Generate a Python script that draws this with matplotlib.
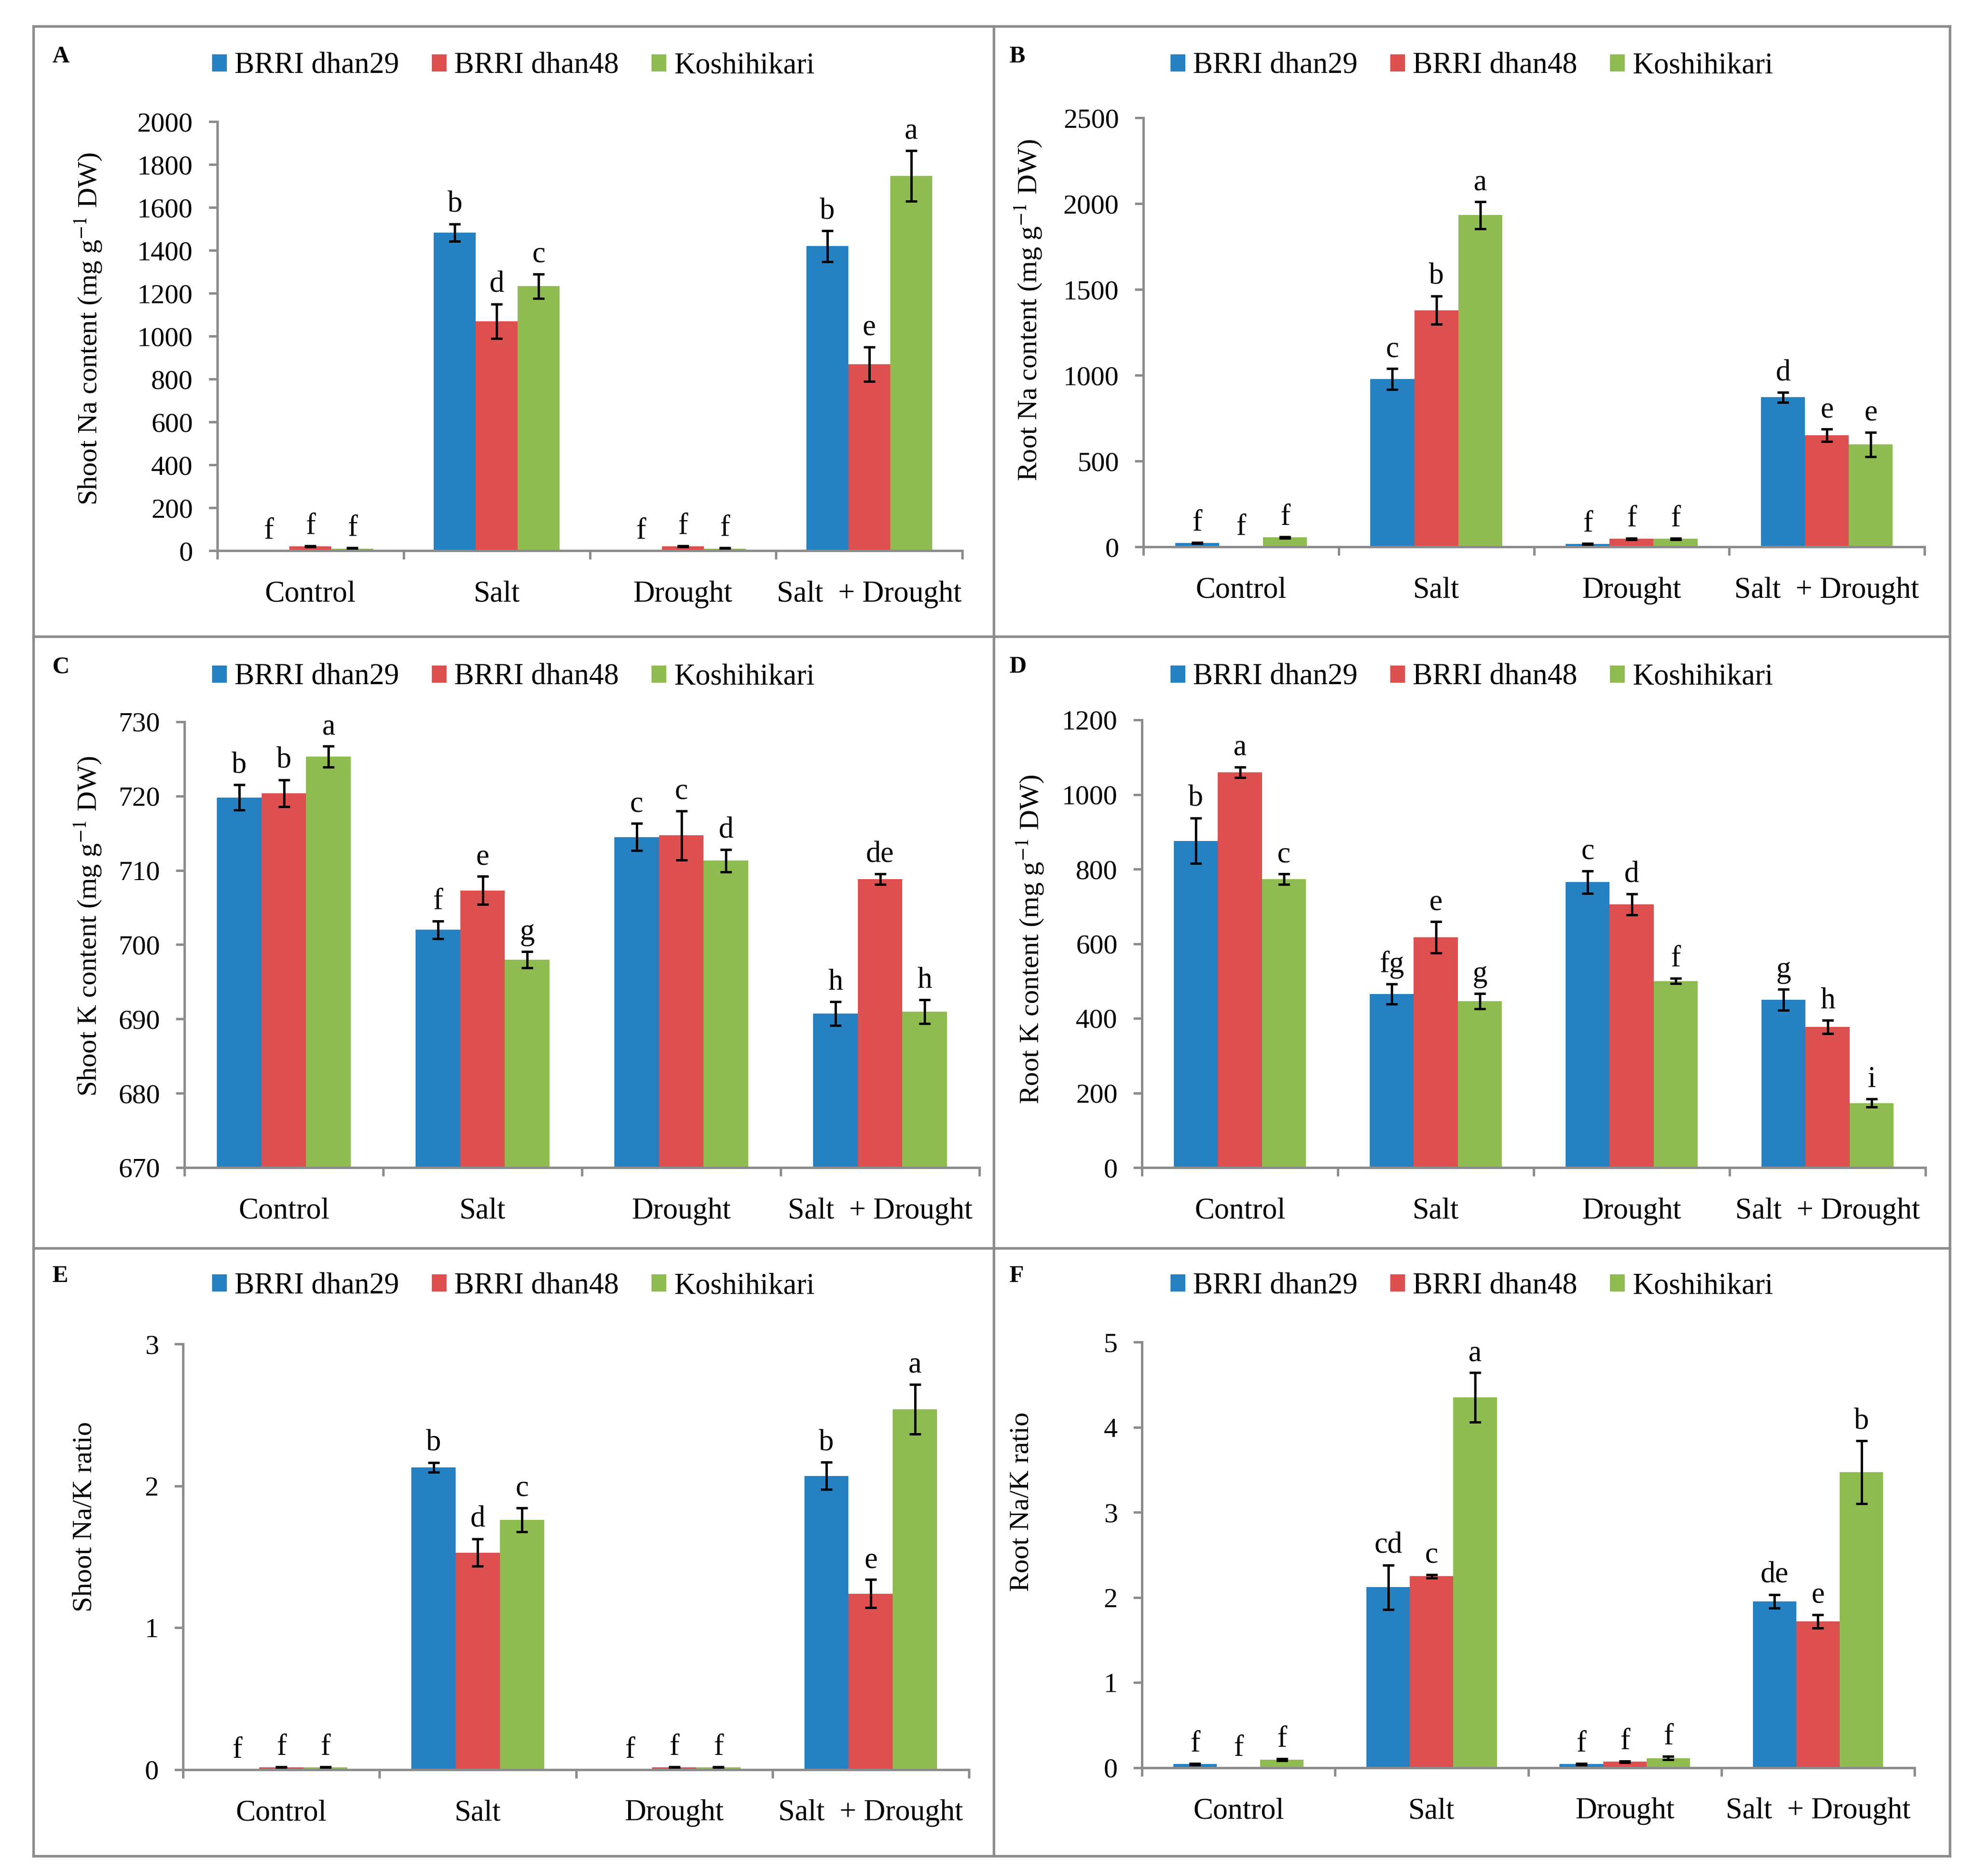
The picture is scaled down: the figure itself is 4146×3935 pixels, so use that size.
import matplotlib
matplotlib.use('Agg')
import matplotlib.pyplot as plt
from matplotlib.patches import Patch
from matplotlib.lines import Line2D
from matplotlib.font_manager import FontProperties
import numpy as np

W, H = 4146, 3935
DPI = 300
plt.rcParams['font.family'] = ['Liberation Serif', 'DejaVu Serif']
plt.rcParams['mathtext.fontset'] = 'stix'

categories = ['Control', 'Salt', 'Drought', 'Salt  + Drought']
cultivars = ['BRRI dhan29', 'BRRI dhan48', 'Koshihikari']
colors = ['#2581C2', '#DE4F4F', '#8FBC50']

# Panel A: Shoot Na content
shoot_na_29 = [0, 1483, 0, 1419]
shoot_na_48 = [20, 1070, 20, 869]
shoot_na_kosh = [10, 1233, 10, 1747]
shoot_na_29_err = [0, 40, 0, 72]
shoot_na_48_err = [3, 80, 3, 80]
shoot_na_kosh_err = [3, 57, 3, 118]
shoot_na_29_let = ['f', 'b', 'f', 'b']
shoot_na_48_let = ['f', 'd', 'f', 'e']
shoot_na_kosh_let = ['f', 'c', 'f', 'a']

# Panel B: Root Na content
root_na_29 = [22, 978, 17, 871]
root_na_48 = [0, 1379, 47, 650]
root_na_kosh = [55, 1932, 47, 596]
root_na_29_err = [3, 60, 3, 29]
root_na_48_err = [0, 83, 4, 36]
root_na_kosh_err = [4, 78, 4, 71]
root_na_29_let = ['f', 'c', 'f', 'd']
root_na_48_let = ['f', 'b', 'f', 'e']
root_na_kosh_let = ['f', 'a', 'f', 'e']

# Panel C: Shoot K content
shoot_k_29 = [719.8, 702.0, 714.5, 690.7]
shoot_k_48 = [720.4, 707.3, 714.7, 708.8]
shoot_k_kosh = [725.3, 698.0, 711.3, 691.0]
shoot_k_29_err = [1.7, 1.2, 1.8, 1.6]
shoot_k_48_err = [1.8, 1.9, 3.3, 0.7]
shoot_k_kosh_err = [1.4, 1.1, 1.5, 1.6]
shoot_k_29_let = ['b', 'f', 'c', 'h']
shoot_k_48_let = ['b', 'e', 'c', 'de']
shoot_k_kosh_let = ['a', 'g', 'd', 'h']

# Panel D: Root K content
root_k_29 = [876, 465, 765, 450]
root_k_48 = [1060, 617, 705, 377]
root_k_kosh = [773, 446, 500, 173]
root_k_29_err = [61, 27, 30, 28]
root_k_48_err = [14, 42, 28, 18]
root_k_kosh_err = [14, 21, 7, 11]
root_k_29_let = ['b', 'fg', 'c', 'g']
root_k_48_let = ['a', 'e', 'd', 'h']
root_k_kosh_let = ['c', 'g', 'f', 'i']

# Panel E: Shoot Na/K ratio
shoot_ratio_29 = [0, 2.13, 0, 2.07]
shoot_ratio_48 = [0.017, 1.53, 0.017, 1.24]
shoot_ratio_kosh = [0.017, 1.76, 0.017, 2.54]
shoot_ratio_29_err = [0, 0.034, 0, 0.096]
shoot_ratio_48_err = [0.003, 0.096, 0.003, 0.099]
shoot_ratio_kosh_err = [0.003, 0.085, 0.003, 0.175]
shoot_ratio_29_let = ['f', 'b', 'f', 'b']
shoot_ratio_48_let = ['f', 'd', 'f', 'e']
shoot_ratio_kosh_let = ['f', 'c', 'f', 'a']

# Panel F: Root Na/K ratio
root_ratio_29 = [0.042, 2.12, 0.042, 1.955]
root_ratio_48 = [0, 2.25, 0.07, 1.72]
root_ratio_kosh = [0.094, 4.35, 0.113, 3.47]
root_ratio_29_err = [0.01, 0.26, 0.01, 0.08]
root_ratio_48_err = [0, 0.02, 0.01, 0.08]
root_ratio_kosh_err = [0.012, 0.29, 0.02, 0.37]
root_ratio_29_let = ['f', 'cd', 'f', 'de']
root_ratio_48_let = ['f', 'c', 'f', 'e']
root_ratio_kosh_let = ['f', 'a', 'f', 'b']

fig = plt.figure(figsize=(W / DPI, H / DPI), dpi=DPI)

def fx(x):
    return x / W

def fy(y):
    return 1 - y / H

GRAY = '#8C8C8C'

# Panel borders
def hline(y, x0, x1):
    fig.add_artist(Line2D([fx(x0), fx(x1)], [fy(y), fy(y)], color=GRAY, lw=1.3, transform=fig.transFigure))

def vline(x, y0, y1):
    fig.add_artist(Line2D([fx(x), fx(x)], [fy(y0), fy(y1)], color=GRAY, lw=1.3, transform=fig.transFigure))

L, R, T, B, MX = 70, 4091, 55, 3893, 2085
for y in (T, 1335, 2618, B):
    hline(y, L, R)
for x in (L, MX, R):
    vline(x, T, B)

panels = [
    dict(rect=(456, 2019, 255, 1155), ylim=(0, 2000), yticks=np.arange(0, 2001, 200),
         vals=[shoot_na_29, shoot_na_48, shoot_na_kosh],
         errs=[shoot_na_29_err, shoot_na_48_err, shoot_na_kosh_err],
         lets=[shoot_na_29_let, shoot_na_48_let, shoot_na_kosh_let],
         ylabel=r'Shoot Na content (mg g$^{-1}$ DW)', ylab_xy=(186, 690),
         tag='A', tag_xy=(109, 96), leg_xy=(1077, 139)),
    dict(rect=(2399, 4038, 247, 1147), ylim=(0, 2500), yticks=np.arange(0, 2501, 500),
         vals=[root_na_29, root_na_48, root_na_kosh],
         errs=[root_na_29_err, root_na_48_err, root_na_kosh_err],
         lets=[root_na_29_let, root_na_48_let, root_na_kosh_let],
         ylabel=r'Root Na content (mg g$^{-1}$ DW)', ylab_xy=(2158, 650),
         tag='B', tag_xy=(2117, 96), leg_xy=(3088, 139)),
    dict(rect=(387, 2055, 1514, 2449), ylim=(670, 730), yticks=np.arange(670, 731, 10),
         vals=[shoot_k_29, shoot_k_48, shoot_k_kosh],
         errs=[shoot_k_29_err, shoot_k_48_err, shoot_k_kosh_err],
         lets=[shoot_k_29_let, shoot_k_48_let, shoot_k_kosh_let],
         ylabel=r'Shoot K content (mg g$^{-1}$ DW)', ylab_xy=(185, 1943),
         tag='C', tag_xy=(109, 1376), leg_xy=(1077, 1421)),
    dict(rect=(2396, 4040, 1510, 2449), ylim=(0, 1200), yticks=np.arange(0, 1201, 200),
         vals=[root_k_29, root_k_48, root_k_kosh],
         errs=[root_k_29_err, root_k_48_err, root_k_kosh_err],
         lets=[root_k_29_let, root_k_48_let, root_k_kosh_let],
         ylabel=r'Root K content (mg g$^{-1}$ DW)', ylab_xy=(2162, 1970),
         tag='D', tag_xy=(2117, 1376), leg_xy=(3088, 1421)),
    dict(rect=(384, 2033, 2819, 3712), ylim=(0, 3), yticks=np.arange(0, 4, 1),
         vals=[shoot_ratio_29, shoot_ratio_48, shoot_ratio_kosh],
         errs=[shoot_ratio_29_err, shoot_ratio_48_err, shoot_ratio_kosh_err],
         lets=[shoot_ratio_29_let, shoot_ratio_48_let, shoot_ratio_kosh_let],
         ylabel='Shoot Na/K ratio', ylab_xy=(178, 3181),
         tag='E', tag_xy=(109, 2654), leg_xy=(1077, 2698)),
    dict(rect=(2396, 4017, 2815, 3708), ylim=(0, 5), yticks=np.arange(0, 6, 1),
         vals=[root_ratio_29, root_ratio_48, root_ratio_kosh],
         errs=[root_ratio_29_err, root_ratio_48_err, root_ratio_kosh_err],
         lets=[root_ratio_29_let, root_ratio_48_let, root_ratio_kosh_let],
         ylabel='Root Na/K ratio', ylab_xy=(2144, 3150),
         tag='F', tag_xy=(2117, 2654), leg_xy=(3088, 2698)),
]

legend_font = FontProperties(family=['Liberation Serif', 'DejaVu Serif'], size=15)

bw = 0.225
x = np.arange(len(categories))
tick_len = 4.3
for p in panels:
    x0, x1, y0, y1 = p['rect']
    ax = fig.add_axes([fx(x0), fy(y1), fx(x1) - fx(x0), fy(y0) - fy(y1)])
    for i in range(3):
        xs = x + (i - 1) * bw
        ax.bar(xs, p['vals'][i], width=bw, color=colors[i], edgecolor='none', zorder=2)
        for xi, v, e, lt in zip(xs, p['vals'][i], p['errs'][i], p['lets'][i]):
            if e > 0:
                ax.errorbar(xi, v, yerr=e, fmt='none', ecolor='black', elinewidth=1.2,
                            capsize=2.9, capthick=1.2, zorder=3)
            ax.annotate(lt, xy=(xi, max(v + e, p['ylim'][0])), xytext=(0, 6),
                        textcoords='offset points', ha='center', va='baseline',
                        fontsize=15, annotation_clip=False)
    ax.set_xlim(-0.5, 3.5)
    ax.set_ylim(*p['ylim'])
    ax.set_yticks(p['yticks'])
    ax.set_yticklabels([str(int(t)) for t in p['yticks']])
    ax.set_xticks(np.arange(-0.5, 4, 1))
    ax.set_xticklabels([])
    ax.set_xticks(x, minor=True)
    ax.set_xticklabels(categories, minor=True)
    ax.tick_params(axis='x', which='major', direction='out', length=tick_len, width=1.2, color=GRAY)
    ax.tick_params(axis='x', which='minor', length=0, pad=15, labelsize=15)
    ax.tick_params(axis='y', direction='out', length=tick_len, width=1.2, color=GRAY,
                   labelsize=14, pad=8)
    for s in ('top', 'right'):
        ax.spines[s].set_visible(False)
    for s in ('left', 'bottom'):
        ax.spines[s].set_color(GRAY)
        ax.spines[s].set_linewidth(1.2)
    ax.spines['left'].set_zorder(4)
    ax.spines['bottom'].set_zorder(4)
    fig.text(fx(p['ylab_xy'][0]), fy(p['ylab_xy'][1]), p['ylabel'], rotation=90,
             ha='center', va='center', fontsize=14)
    fig.text(fx(p['tag_xy'][0]), fy(p['tag_xy'][1]), p['tag'], ha='left', va='top',
             fontsize=12, fontweight='bold')
    handles = [Patch(facecolor=c, edgecolor='none') for c in colors]
    fig.legend(handles, cultivars, loc='center', bbox_to_anchor=(fx(p['leg_xy'][0]), fy(p['leg_xy'][1])),
               bbox_transform=fig.transFigure, ncol=3, frameon=False, prop=legend_font,
               handlelength=0.5, handleheight=0.5, handletextpad=0.25, columnspacing=1.1,
               borderaxespad=0, borderpad=0)

fig.savefig('out.png', dpi=DPI)
